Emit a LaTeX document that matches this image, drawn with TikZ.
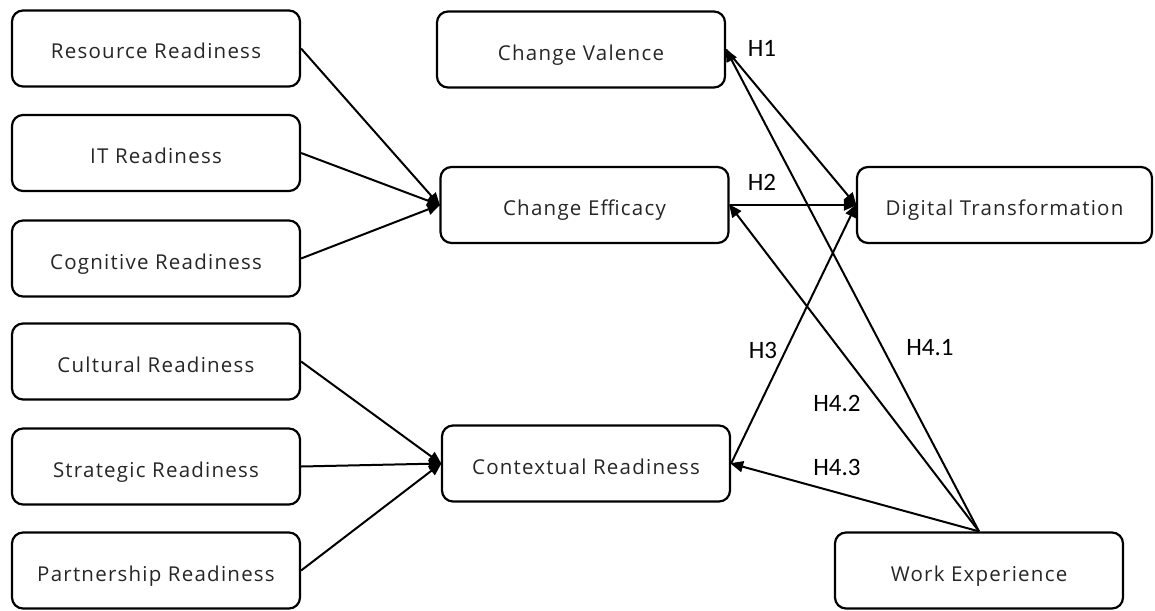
\documentclass[tikz,border=0pt]{standalone}
\usepackage{fontspec}
\setmainfont{Open Sans}[LetterSpace=6]
\newfontfamily\labfont{Carlito}
\usetikzlibrary{arrows.meta}
\tikzset{
  box/.style={draw=black, line width=2.2pt, rounded corners=11pt, minimum width=288pt, minimum height=76pt, inner sep=0pt, text height=21pt, text depth=0pt, text=black!85, font=\fontsize{20.5}{24}\selectfont},
  conn/.style={line width=2pt, -{Triangle[length=13pt,width=11pt]}, shorten >=-1pt},
  hlab/.style={font=\labfont\fontsize{25}{30}\selectfont, text=black, inner sep=0pt}
}
\begin{document}
\begin{tikzpicture}[x=1pt,y=-1pt]
\useasboundingbox (0,0) rectangle (1155,610);
% left column
\node[box] (rr) at (156,48.5) {Resource Readiness};
\node[box] (it) at (156,153) {IT Readiness};
\node[box] (cr) at (156,258.5) {Cognitive Readiness};
\node[box] (cu) at (156,361.5) {Cultural Readiness};
\node[box] (sr) at (156,466.5) {Strategic Readiness};
\node[box] (pr) at (156,570.5) {Partnership Readiness};
% middle column
\node[box] (cv) at (581,49.5) {Change Valence};
\node[box] (ce) at (584.5,205) {Change Efficacy};
\node[box] (cx) at (586,463.5) {Contextual Readiness};
% right column
\node[box, minimum width=295pt] (dt) at (1004.5,205) {Digital Transformation};
\node[box] (we) at (979,570.5) {Work Experience};
% connectors into Change Efficacy
\draw[conn] (rr.east) -- (ce.west);
\draw[conn] (it.east) -- (ce.west);
\draw[conn] (cr.east) -- (ce.west);
% connectors into Contextual Readiness
\draw[conn] (cu.east) -- (cx.west);
\draw[conn] (sr.east) -- (cx.west);
\draw[conn] (pr.east) -- (cx.west);
% hypotheses
\draw[conn] (cv.east) -- (dt.west);
\draw[conn] (ce.east) -- (dt.west);
\draw[conn] (cx.east) -- (dt.west);
\draw[conn] (we.north) -- (cv.east);
\draw[conn] (we.north) -- (ce.east);
\draw[conn] (we.north) -- (cx.east);
% labels
\node[hlab] (h1) at (762,48) {H1};
\node[hlab] (h2) at (762,182) {H2};
\node[hlab] (h3) at (763,350) {H3};
\node[hlab] (h41) at (930,348) {H4.1};
\node[hlab] (h42) at (837,403) {H4.2};
\node[hlab] (h43) at (837,467) {H4.3};
\end{tikzpicture}
\end{document}
